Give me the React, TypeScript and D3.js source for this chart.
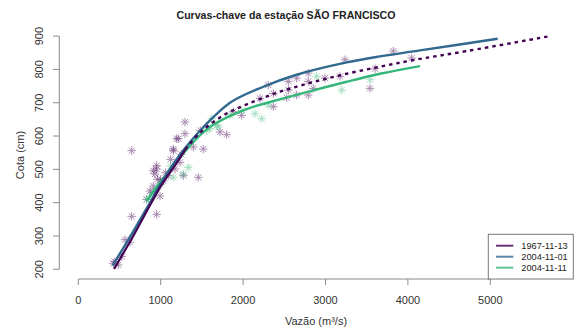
import React from "react";
import * as d3 from "d3";

const W = 577;
const H = 334;

const xTicks = [0, 1000, 2000, 3000, 4000, 5000];
const yTicks = [200, 300, 400, 500, 600, 700, 800, 900];

const seriesNames = ["1967-11-13", "2004-11-01", "2004-11-11"];
const seriesColors = ["#440154", "#31688E", "#35B779"];

// 1967 curve – measured (solid) part
const c1967SolidQ = [434, 667, 870, 1007, 1200, 1300];
const c1967SolidH = [201, 300, 392, 452, 522, 560];
// 1967 curve – extrapolated (dotted) part
const c1967DotQ = [1300, 1477, 1761, 2044, 2448, 2852, 3257, 3661, 4066, 4714, 5725];
const c1967DotH = [560, 610, 662, 695, 733, 762, 787, 808, 828, 855, 900];

const c2004aQ = [417, 667, 870, 1007, 1200, 1350, 1500, 1841, 2245, 2650, 3257, 3661, 4147, 5090];
const c2004aH = [211, 314, 400, 460, 533, 580, 622, 700, 748, 784, 821, 839, 857, 892];

const c2004bQ = [830, 951, 1153, 1300, 1479, 1638, 2044, 2448, 2852, 3257, 3661, 4147];
const c2004bH = [405, 448, 510, 555, 603, 634, 681, 710, 737, 763, 787, 810];

// measured points
const ptsPurpleQ = [425, 485, 445, 527, 567, 627, 648, 648, 830, 870, 910, 910, 910, 931, 951, 951, 951, 992, 1032, 1092, 1153, 1153, 1174, 1194, 1214, 1234, 1274, 1295, 1295, 1396, 1456, 1517, 1480, 1720, 1801, 1881, 1983, 2205, 2305, 2367, 2367, 2529, 2549, 2549, 2650, 2650, 2791, 2791, 2791, 2852, 2994, 3176, 3237, 3540, 3601, 3823, 4046, 1000, 1060, 1120, 960, 1250];
const ptsPurpleH = [218, 213, 223, 238, 289, 281, 359, 556, 410, 435, 430, 450, 496, 486, 365, 501, 511, 420, 465, 481, 556, 561, 501, 592, 592, 521, 481, 607, 642, 567, 476, 561, 617, 612, 604, 673, 662, 713, 753, 728, 688, 715, 738, 764, 774, 723, 789, 764, 723, 743, 774, 779, 829, 743, 802, 855, 834, 470, 490, 530, 470, 545];

const ptsGreenQ = [830, 880, 951, 1000, 1120, 1153, 1274, 1335, 1558, 1598, 1619, 1680, 1699, 1841, 1983, 2144, 2225, 2305, 2893, 3196, 3540];
const ptsGreenH = [410, 420, 440, 455, 510, 476, 486, 506, 617, 622, 652, 632, 627, 662, 677, 667, 652, 693, 779, 738, 769];

const x = d3.scaleLinear().domain([0, 5000]).range([78.3, 490.3]);
const y = d3.scaleLinear().domain([200, 900]).range([269.3, 36.1]);

const line = d3
  .line<[number, number]>()
  .x((d) => x(d[0]))
  .y((d) => y(d[1]))
  .curve(d3.curveCatmullRom.alpha(0.5));

const zip = (a: number[], b: number[]) => a.map((v, i) => [v, b[i]] as [number, number]);

function Asterisk({ cx, cy, color }: { cx: number; cy: number; color: string }) {
  const r = 4.2;
  const d = r * 0.72;
  return (
    <g transform={`translate(${cx},${cy})`} stroke={color} strokeWidth={1} opacity={0.45}>
      <line x1={-r} y1={0} x2={r} y2={0} />
      <line x1={0} y1={-r} x2={0} y2={r} />
      <line x1={-d} y1={-d} x2={d} y2={d} />
      <line x1={-d} y1={d} x2={d} y2={-d} />
    </g>
  );
}

export default function App() {
  const font = "Liberation Sans, Arial, sans-serif";
  const axisColor = "#8a8a8a";
  const textColor = "#333";
  return (
    <svg width={W} height={H} style={{ position: "absolute", left: 0, top: 0 }} fontFamily={font}>
      <rect width={W} height={H} fill="#fff" />
      <text x={286} y={19} textAnchor="middle" fontSize={10.6} fontWeight="bold" fill="#222">
        Curvas-chave da estação SÃO FRANCISCO
      </text>

      {/* x axis */}
      <line x1={x(0)} x2={x(5000)} y1={279} y2={279} stroke={axisColor} />
      {xTicks.map((t) => (
        <g key={t}>
          <line x1={x(t)} x2={x(t)} y1={279} y2={285} stroke={axisColor} />
          <text x={x(t)} y={304} textAnchor="middle" fontSize={11} fill={textColor}>
            {t}
          </text>
        </g>
      ))}
      <text x={316} y={324.5} textAnchor="middle" fontSize={11} fill={textColor}>
        Vazão (m³/s)
      </text>

      {/* y axis */}
      <line x1={59.3} x2={59.3} y1={y(200)} y2={y(900)} stroke={axisColor} />
      {yTicks.map((t) => (
        <g key={t}>
          <line x1={53} x2={59.3} y1={y(t)} y2={y(t)} stroke={axisColor} />
          <text
            transform={`translate(43,${y(t)}) rotate(-90)`}
            textAnchor="middle"
            fontSize={11}
            fill={textColor}
          >
            {t}
          </text>
        </g>
      ))}
      <text transform={`translate(24,155) rotate(-90)`} textAnchor="middle" fontSize={11} fill={textColor}>
        Cota (cm)
      </text>

      {/* points */}
      {ptsPurpleQ.map((q, i) => (
        <Asterisk key={"p" + i} cx={x(q)} cy={y(ptsPurpleH[i])} color={seriesColors[0]} />
      ))}
      {ptsGreenQ.map((q, i) => (
        <Asterisk key={"g" + i} cx={x(q)} cy={y(ptsGreenH[i])} color={seriesColors[2]} />
      ))}

      {/* curves */}
      <path d={line(zip(c2004bQ, c2004bH)) || ""} fill="none" stroke={seriesColors[2]} strokeWidth={2.4} />
      <path d={line(zip(c2004aQ, c2004aH)) || ""} fill="none" stroke={seriesColors[1]} strokeWidth={2.4} />
      <path d={line(zip(c1967SolidQ, c1967SolidH)) || ""} fill="none" stroke={seriesColors[0]} strokeWidth={2.2} />
      <path
        d={line(zip(c1967DotQ, c1967DotH)) || ""}
        fill="none"
        stroke={seriesColors[0]}
        strokeWidth={2.4}
        strokeDasharray="3.5,4"
      />

      {/* legend */}
      <rect x={488.3} y={234.3} width={85} height={44.7} fill="#fff" stroke="#777" strokeWidth={1} />
      {seriesNames.map((n, i) => (
        <g key={n}>
          <line
            x1={496}
            x2={513.3}
            y1={245.7 + i * 11}
            y2={245.7 + i * 11}
            stroke={seriesColors[i]}
            strokeWidth={2}
            opacity={0.8}
          />
          <text x={521.3} y={245.7 + i * 11 + 3.3} fontSize={9.2} fill="#222">
            {n}
          </text>
        </g>
      ))}
    </svg>
  );
}
